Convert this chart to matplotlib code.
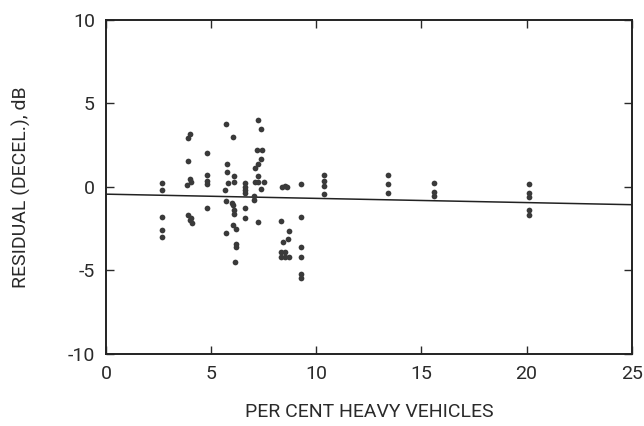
import numpy as np
import matplotlib
matplotlib.use("Agg")
import matplotlib.pyplot as plt

# Per cent heavy vehicles (x) and residual (y)
heavy_pct = [
    2.65, 2.65, 2.65, 2.65, 2.65,
    4.0, 3.9, 3.9, 4.0, 4.05, 3.85, 3.9, 4.05, 4.0, 4.1,
    4.8, 4.8, 4.8, 4.8, 4.8,
    5.72, 6.03, 5.77, 5.77, 6.11, 5.8, 6.08, 5.67, 5.72, 6.0,
    6.03, 6.08, 6.1, 6.03, 6.19, 5.72, 6.19, 6.19, 6.14,
    6.6, 6.6, 6.6, 6.6, 6.6, 6.6,
    7.25, 7.38, 7.16, 7.4, 7.38, 7.22, 7.1, 7.22, 7.1, 7.25,
    7.5, 7.38, 7.06, 7.06, 7.22,
    8.35, 8.5, 8.6, 8.33, 8.69, 8.65, 8.4, 8.3, 8.5, 8.3, 8.5, 8.7,
    9.27, 9.27, 9.27, 9.27, 9.27, 9.27,
    10.37, 10.37, 10.37, 10.37,
    13.43, 13.43, 13.43,
    15.62, 15.62, 15.62,
    20.13, 20.13, 20.13, 20.13, 20.13,
]
residual = [
    0.23, -0.21, -1.8, -2.6, -3.0,
    3.18, 2.94, 1.54, 0.45, 0.3, 0.09, -1.7, -1.84, -2.0, -2.16,
    2.02, 0.73, 0.33, 0.15, -1.24,
    3.73, 2.97, 1.34, 0.89, 0.67, 0.23, 0.29, -0.21, -0.85, -0.97,
    -1.1, -1.36, -1.6, -2.3, -2.5, -2.76, -3.43, -3.63, -4.47,
    0.2, 0.0, -0.2, -0.4, -1.24, -1.84,
    3.97, 3.43, 2.22, 2.22, 1.68, 1.38, 1.15, 0.65, 0.29, 0.29,
    0.29, -0.15, -0.57, -0.8, -2.12,
    0.0, 0.05, 0.0, -2.06, -2.66, -3.1, -3.3, -3.89, -3.89, -4.19, -4.19, -4.19,
    0.19, -1.82, -3.63, -4.2, -5.2, -5.45,
    0.69, 0.37, 0.02, -0.41,
    0.69, 0.19, -0.35,
    0.23, -0.31, -0.57,
    0.15, -0.37, -0.61, -1.4, -1.7,
]

# Fitted regression line end points
fit_x = [0, 25]
fit_y = [-0.44, -1.07]

x_ticks = [0, 5, 10, 15, 20, 25]
y_ticks = [-10, -5, 0, 5, 10]

plt.rcParams['font.family'] = ['Roboto', 'DejaVu Sans']

fig = plt.figure(figsize=(6.44, 4.26), dpi=100)
ax = fig.add_axes([0.1646, 0.169, 0.8164, 0.785])

ax.scatter(heavy_pct, residual, s=17, color='#3a3a3a', zorder=3, linewidths=0)
ax.plot(fit_x, fit_y, color='#222222', linewidth=1.1)

ax.set_xlim(0, 25)
ax.set_ylim(-10, 10)
ax.set_xticks(x_ticks)
ax.set_yticks(y_ticks)
ax.set_yticklabels(['-10', '-5', '0', '5', '10'])
ax.tick_params(direction='in', top=True, right=True, length=6, width=1,
               labelsize=14, colors='#2a2a2a', pad=8)

for spine in ax.spines.values():
    spine.set_linewidth(1.4)
    spine.set_color('#222222')

ax.set_xlabel('PER CENT HEAVY VEHICLES', fontsize=14, labelpad=14, color='#2a2a2a')
ax.set_ylabel('RESIDUAL (DECEL.), dB', fontsize=14, labelpad=26, color='#2a2a2a')

fig.savefig('out.png', dpi=100, facecolor='white')
